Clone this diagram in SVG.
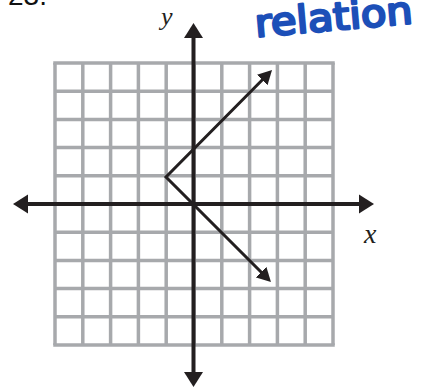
<svg xmlns="http://www.w3.org/2000/svg" width="432" height="390" viewBox="0 0 432 390">
<style>
.grid line{stroke:#a7a9ac;stroke-width:3.5}
.axis{stroke:#231f20;stroke-width:4;fill:none}
.ray{stroke:#231f20;stroke-width:3;fill:none}
.lbl{font-family:"Liberation Serif",serif;font-style:italic;fill:#231f20}
</style>
<defs>
<marker id="ax" markerUnits="userSpaceOnUse" viewBox="0 -10 16 20" refX="5" refY="0" markerWidth="16" markerHeight="20" orient="auto-start-reverse">
<path d="M0,-9.5 L15,0 L0,9.5 z" fill="#231f20"/>
</marker>
<marker id="ar" markerUnits="userSpaceOnUse" viewBox="0 -8 15 16" refX="6" refY="0" markerWidth="15" markerHeight="16" orient="auto-start-reverse">
<path d="M0,-7.5 L14,0 L0,7.5 z" fill="#231f20"/>
</marker>
</defs>
<rect width="432" height="390" fill="#fff"/>
<text x="8" y="5" font-family="Liberation Sans,Arial,sans-serif" font-size="28" fill="#111">23.</text>
<text x="256" y="37" transform="rotate(-5 256 37)" font-family="DejaVu Sans,sans-serif" font-size="38" fill="#1c4fb8" stroke="#1c4fb8" stroke-width="2.5" stroke-linejoin="round" textLength="158" lengthAdjust="spacingAndGlyphs">relation</text>
<g id="grid" class="grid">
<line x1="55" y1="63" x2="55" y2="345"/>
<line x1="82.8" y1="63" x2="82.8" y2="345"/>
<line x1="110.6" y1="63" x2="110.6" y2="345"/>
<line x1="138.4" y1="63" x2="138.4" y2="345"/>
<line x1="166.2" y1="63" x2="166.2" y2="345"/>
<line x1="194" y1="63" x2="194" y2="345"/>
<line x1="221.8" y1="63" x2="221.8" y2="345"/>
<line x1="249.6" y1="63" x2="249.6" y2="345"/>
<line x1="277.4" y1="63" x2="277.4" y2="345"/>
<line x1="305.2" y1="63" x2="305.2" y2="345"/>
<line x1="333" y1="63" x2="333" y2="345"/>
<line x1="53.25" y1="63" x2="334.75" y2="63"/>
<line x1="55" y1="91.2" x2="333" y2="91.2"/>
<line x1="55" y1="119.4" x2="333" y2="119.4"/>
<line x1="55" y1="147.6" x2="333" y2="147.6"/>
<line x1="55" y1="175.8" x2="333" y2="175.8"/>
<line x1="55" y1="204" x2="333" y2="204"/>
<line x1="55" y1="232.2" x2="333" y2="232.2"/>
<line x1="55" y1="260.4" x2="333" y2="260.4"/>
<line x1="55" y1="288.6" x2="333" y2="288.6"/>
<line x1="55" y1="316.8" x2="333" y2="316.8"/>
<line x1="53.25" y1="345" x2="334.75" y2="345"/>
</g>
<g id="connectors">
<line id="x-axis" class="axis" x1="23" y1="204" x2="364" y2="204" marker-start="url(#ax)" marker-end="url(#ax)"/>
<line id="y-axis" class="axis" x1="193.5" y1="33" x2="193.5" y2="377" marker-start="url(#ax)" marker-end="url(#ax)"/>
<path id="relation-graph" class="ray" d="M266.4,75.7 L166,177 L265.3,276.3" marker-start="url(#ar)" marker-end="url(#ar)"/>
</g>
<g id="labels">
<text class="lbl" x="161" y="25" font-size="26">y</text>
<text class="lbl" x="364" y="243" font-size="28">x</text>
</g>
</svg>
